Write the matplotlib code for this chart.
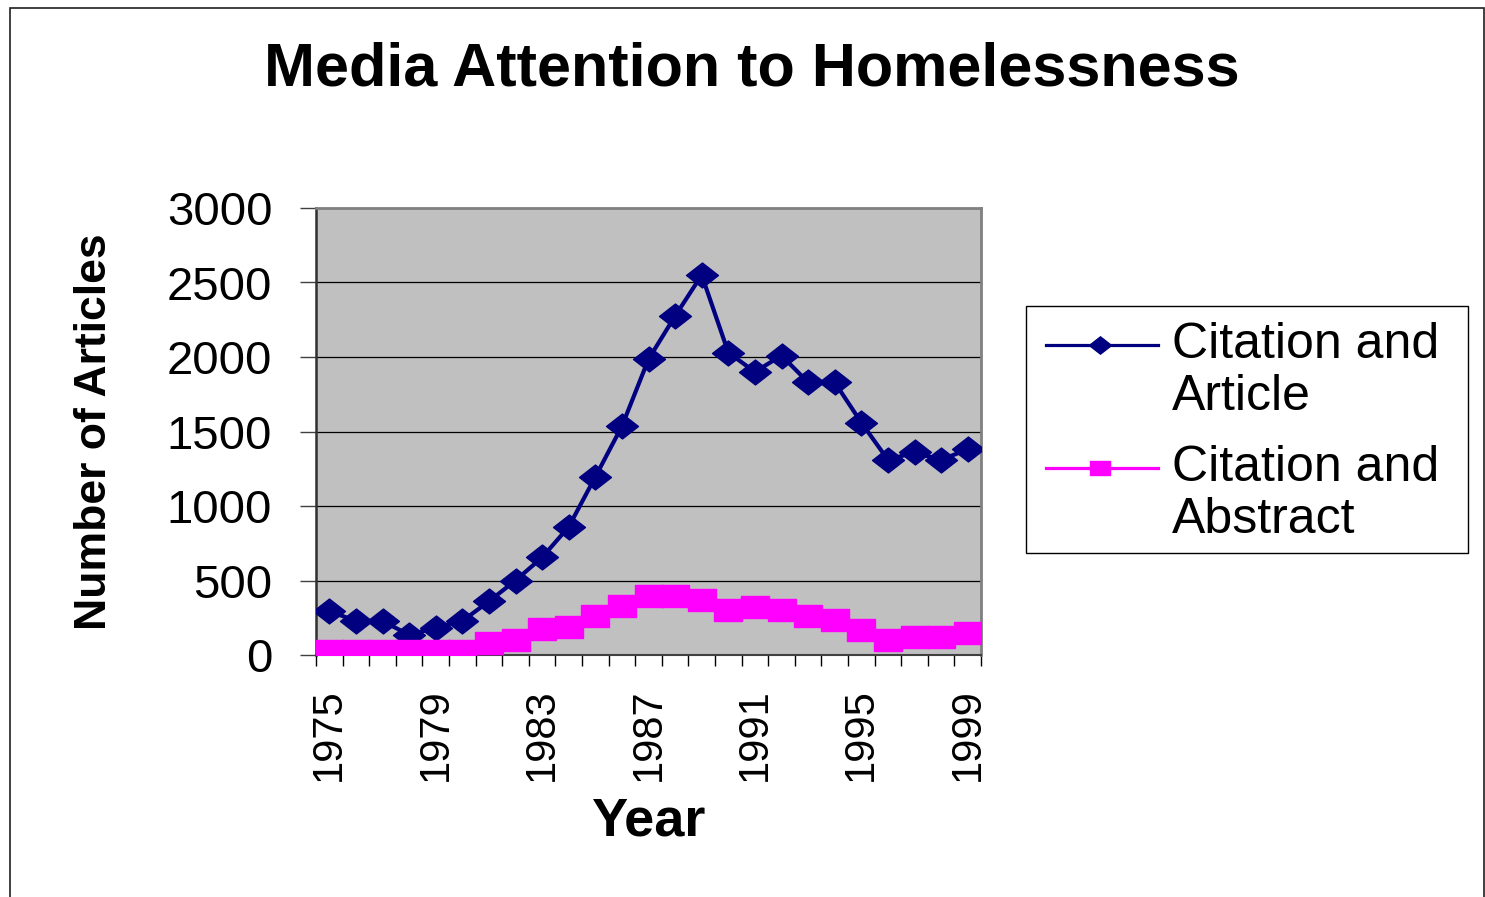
import numpy as np
import matplotlib
matplotlib.use("Agg")
import matplotlib.pyplot as plt
from matplotlib.lines import Line2D
from matplotlib.patches import Rectangle
from matplotlib.path import Path

plt.rcParams['font.family'] = ['Liberation Sans', 'DejaVu Sans']

# adatok
years = list(range(1975, 2000))
citation_article = [295, 228, 228, 135, 183, 228, 360, 500, 655, 860, 1195, 1535, 1985,
                    2275, 2550, 2030, 1900, 2010, 1830, 1830, 1560, 1310, 1360, 1310, 1380]
citation_abstract = [30, 30, 30, 30, 30, 30, 80, 100, 175, 190, 260, 330, 395,
                     395, 370, 305, 325, 305, 260, 235, 170, 100, 124, 124, 147]
series_names = ["Citation and\nArticle", "Citation and\nAbstract"]
year_labels = [str(y) for y in years[::4]]
y_ticks = [0, 500, 1000, 1500, 2000, 2500, 3000]

navy = "#000080"
pink = "#FF00FF"

# Excel-szeru, kicsit lapos jelolok
diamond = Path([(-1, 0), (0, 0.78), (1, 0), (0, -0.78), (-1, 0)],
               [Path.MOVETO, Path.LINETO, Path.LINETO, Path.LINETO, Path.CLOSEPOLY])
square = Path([(-1, -0.76), (1, -0.76), (1, 0.76), (-1, 0.76), (-1, -0.76)],
              [Path.MOVETO, Path.LINETO, Path.LINETO, Path.LINETO, Path.CLOSEPOLY])

W, H = 1485, 897
fig = plt.figure(figsize=(W / 100, H / 100), dpi=100)
fig.patch.set_facecolor("white")

# kulso keret
fig.patches.append(Rectangle((10 / W, -0.05), 1474 / W, 1.05 - 8 / H, transform=fig.transFigure,
                             fill=False, edgecolor="#202020", linewidth=1.2))

ax = fig.add_axes([316 / W, 1 - 655 / H, 665 / W, 447 / H])
ax.set_facecolor("#C0C0C0")

x = np.arange(len(years))
ax.plot(x, citation_article, color=navy, linewidth=3, marker=diamond, markersize=23,
        markerfacecolor=navy, markeredgecolor=navy, zorder=3)
ax.plot(x, citation_abstract, color=pink, linewidth=2.6, marker=square, markersize=20,
        markerfacecolor=pink, markeredgecolor=pink, zorder=4)

ax.set_xlim(-0.5, len(years) - 0.5)
ax.set_ylim(0, 3000)
ax.set_yticks(y_ticks)
ax.set_yticklabels([str(v) for v in y_ticks])
ax.yaxis.grid(True, color="black", linewidth=0.9)
ax.set_axisbelow(True)

ax.set_xticks(x[::4])
ax.set_xticklabels(year_labels, rotation=90)
ax.set_xticks(np.arange(-0.5, len(years)), minor=True)
ax.tick_params(axis="x", which="major", length=0, pad=24, labelsize=30)
ax.tick_params(axis="x", which="minor", length=8, width=1, color="black")
ax.tick_params(axis="y", length=11.5, width=1, color="#404040", pad=20, labelsize=34)

for s in ["top", "right"]:
    ax.spines[s].set_color("#808080")
    ax.spines[s].set_linewidth(2)
ax.spines["left"].set_color("#303030")
ax.spines["left"].set_linewidth(1.8)
ax.spines["bottom"].set_color("#404040")
ax.spines["bottom"].set_linewidth(1.5)

fig.text(752 / W, 1 - 70 / H, "Media Attention to Homelessness", ha="center", va="center",
         fontsize=44, fontweight="bold")
fig.text(95 / W, 1 - 432 / H, "Number of Articles", ha="center", va="center",
         rotation=90, fontsize=32, fontweight="bold")
fig.text(648 / W, 1 - 821 / H, "Year", ha="center", va="center", fontsize=39, fontweight="bold")

# jelmagyarazat kezzel
fig.patches.append(Rectangle((1026 / W, 1 - 553 / H), 442 / W, 247 / H, transform=fig.transFigure,
                             fill=False, edgecolor="black", linewidth=1))
handles = [(navy, diamond, 16, 345, 2.3), (pink, square, 14, 468, 2.3)]
for (col, mk, ms, yy, lw), name in zip(handles, series_names):
    fig.lines.append(Line2D([1046 / W, 1158 / W], [1 - yy / H, 1 - yy / H], transform=fig.transFigure,
                            color=col, linewidth=lw))
    fig.lines.append(Line2D([1100 / W], [1 - yy / H], transform=fig.transFigure, color=col,
                            marker=mk, markersize=ms, markerfacecolor=col, markeredgecolor=col))
    fig.text(1172 / W, 1 - (yy - 23) / H, name, ha="left", va="top", fontsize=36, linespacing=1.17)

fig.savefig("out.png", dpi=100)
